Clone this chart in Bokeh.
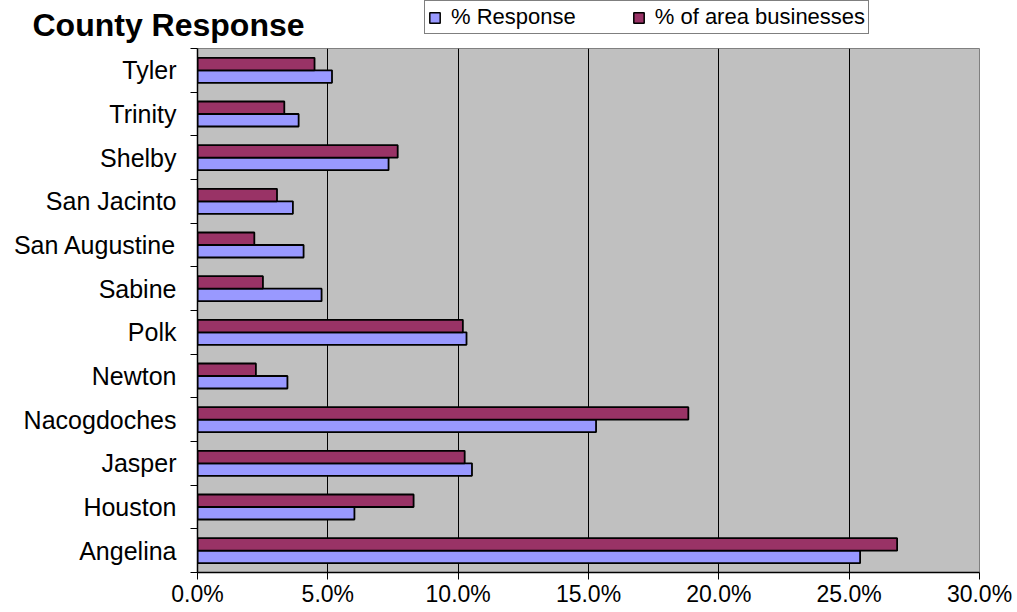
from bokeh.plotting import figure
from bokeh.layouts import column
from bokeh.models import (Range1d, FixedTicker, Legend, LegendItem, Label,
                          ColumnDataSource)
from bokeh.transform import dodge
from bokeh.embed import file_html
from bokeh.resources import INLINE

# ---- data (bottom to top, as drawn) ----
counties = ["Angelina", "Houston", "Jasper", "Nacogdoches", "Newton", "Polk",
            "Sabine", "San Augustine", "San Jacinto", "Shelby", "Trinity", "Tyler"]
pct_response = [25.42, 6.02, 10.53, 15.29, 3.45, 10.32, 4.76, 4.07, 3.66, 7.33, 3.88, 5.16]
pct_businesses = [26.84, 8.29, 10.25, 18.83, 2.24, 10.18, 2.51, 2.18, 3.05, 7.68, 3.33, 4.49]
x_ticks = [0, 5, 10, 15, 20, 25, 30]
x_tick_labels = ["0.0%", "5.0%", "10.0%", "15.0%", "20.0%", "25.0%", "30.0%"]
title_text = "County Response"
series_names = ["% Response", "% of area businesses"]

FONT = "Liberation Sans"
BLUE = "#9999FF"
PURPLE = "#993366"
HEADER_H = 46

n = len(counties)
centers = [i + 0.5 for i in range(n)]
bounds = [i for i in range(n + 1)]

src = ColumnDataSource(dict(y=centers, county=counties,
                            resp=pct_response, bus=pct_businesses))

# ---------------- main chart ----------------
p = figure(width=1017, height=612 - HEADER_H, output_backend="svg",
           toolbar_location=None,
           x_range=Range1d(0, 30), y_range=Range1d(0, n),
           min_border_left=197, min_border_right=38,
           min_border_top=2, min_border_bottom=40)
p.frame_align = False

p.background_fill_color = "#C0C0C0"
p.border_fill_color = "white"
p.outline_line_color = "#808080"
p.outline_line_width = 1

bar_h = 0.286
p.hbar(y=dodge("y", -0.143, range=p.y_range), right="resp", left=0,
       height=bar_h, source=src, fill_color=BLUE,
       line_color="black", line_width=1.8)
p.hbar(y=dodge("y", 0.143, range=p.y_range), right="bus", left=0,
       height=bar_h, source=src, fill_color=PURPLE,
       line_color="black", line_width=1.8)

# x axis
xa = p.xaxis[0]
xa.ticker = FixedTicker(ticks=x_ticks)
xa.major_label_overrides = {t: lab for t, lab in zip(x_ticks, x_tick_labels)}
xa.major_label_text_font = FONT
xa.major_label_text_font_size = "23px"
xa.major_label_text_color = "black"
xa.major_tick_out = 7
xa.major_tick_in = 0
xa.major_tick_line_color = "black"
xa.minor_tick_line_color = None
xa.axis_line_color = "black"
xa.axis_line_width = 1.5
xa.major_label_standoff = 1

# y axis: labels at centers, tick marks at category boundaries
ya = p.yaxis[0]
ya.ticker = FixedTicker(ticks=centers, minor_ticks=bounds)
ya.major_label_overrides = {c: name for c, name in zip(centers, counties)}
ya.major_label_text_font = FONT
ya.major_label_text_font_size = "25px"
ya.major_label_text_color = "black"
ya.major_tick_line_color = None
ya.major_tick_out = 7
ya.major_tick_in = 0
ya.minor_tick_line_color = "black"
ya.minor_tick_out = 7
ya.minor_tick_in = 0
ya.axis_line_color = "black"
ya.axis_line_width = 1.5
ya.major_label_standoff = 14

p.xgrid.ticker = FixedTicker(ticks=x_ticks)
p.xgrid.grid_line_color = "black"
p.xgrid.grid_line_width = 1
p.ygrid.grid_line_color = None

# ---------------- header: title + legend ----------------
h = figure(width=1017, height=HEADER_H, output_backend="svg",
           toolbar_location=None, x_axis_type=None, y_axis_type=None,
           x_range=Range1d(0, 1), y_range=Range1d(0, 1),
           min_border=0, min_border_left=0, min_border_right=0,
           min_border_top=0, min_border_bottom=0)
h.frame_align = False
h.outline_line_color = None
h.background_fill_color = "white"
h.border_fill_color = "white"
h.xgrid.grid_line_color = None
h.ygrid.grid_line_color = None

# legend swatch renderers (kept outside the visible header range)
swatch = ColumnDataSource(dict(y=[-5], right=[0]))
lr_resp = h.hbar(y="y", right="right", left=0, height=0.5, source=swatch,
                 fill_color=BLUE, line_color="black", line_width=1.5)
lr_bus = h.hbar(y="y", right="right", left=0, height=0.5, source=swatch,
                fill_color=PURPLE, line_color="black", line_width=1.5)

legend = Legend(items=[LegendItem(label=series_names[0], renderers=[lr_resp]),
                       LegendItem(label=series_names[1], renderers=[lr_bus])],
                orientation="horizontal", location=(424, 12),
                padding=3, spacing=56, margin=0,
                glyph_width=13, glyph_height=13, label_standoff=10,
                label_height=20,
                label_text_font=FONT, label_text_font_size="22px",
                label_text_color="black",
                border_line_color="black", border_line_width=1,
                background_fill_color="white", background_fill_alpha=1)
h.add_layout(legend, "center")

title = Label(x=32, y=22, x_units="screen", y_units="screen",
              text=title_text, text_font=FONT, text_font_size="32px",
              text_font_style="bold", text_color="black",
              text_baseline="alphabetic", text_align="left")
h.add_layout(title)

layout = column(h, p, spacing=0)
open("out.html", "w").write(file_html(layout, INLINE))
